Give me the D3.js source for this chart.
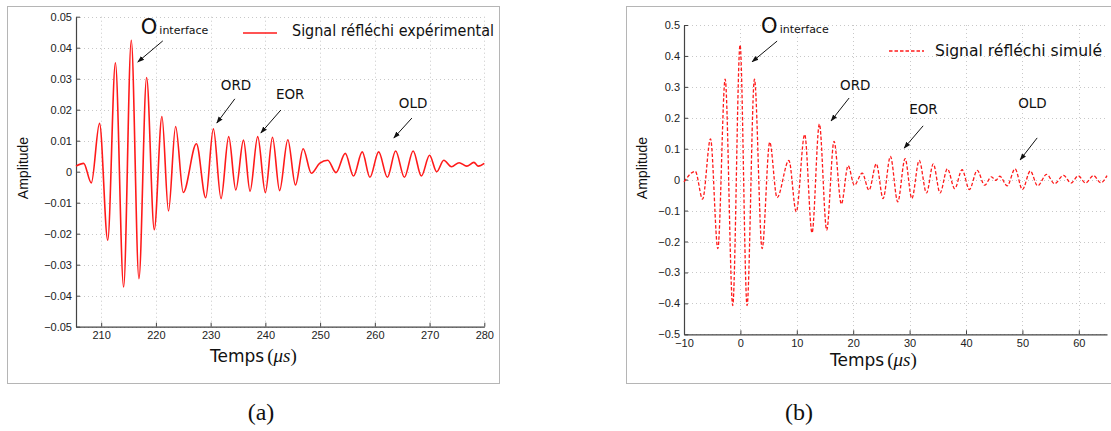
<!DOCTYPE html>
<html><head><meta charset="utf-8">
<script src="https://cdn.jsdelivr.net/npm/d3@7"></script>
<style>body{margin:0;background:#fff}svg{display:block}</style>
</head><body><svg id="c" width="1111" height="431"></svg>
<script>
// ---------- data ----------
const expTime = [205.4,206.8,208.2,209.7,211.2,212.6,214.1,215.5,216.9,218.3,219.7,221.1,222.3,223.6,225.0,227.4,229.1,230.5,231.9,233.3,234.6,236.0,237.2,238.6,240.0,241.3,242.6,244.1,245.5,246.9,248.4,249.9,251.4,252.9,254.6,256.1,257.7,259.1,260.7,262.3,263.8,265.4,267.0,268.5,270.0,271.3,272.6,274.0,275.4,276.8,278.1,278.9,280.0];
const expAmp = [0.0018,0.0027,-0.0036,0.0156,-0.0221,0.0351,-0.0372,0.0424,-0.0345,0.0304,-0.0187,0.0178,-0.0127,0.0146,-0.0067,0.0090,-0.0084,0.0138,-0.0087,0.0113,-0.0059,0.0102,-0.0063,0.0113,-0.0067,0.0111,-0.0061,0.0103,-0.0043,0.0074,-0.0005,0.0027,0.0037,-0.0003,0.0059,-0.0014,0.0064,-0.0018,0.0064,-0.0018,0.0067,-0.0018,0.0067,-0.0014,0.0053,0.0000,0.0037,0.0016,0.0029,0.0018,0.0030,0.0018,0.0027];

const simTime = [-10,-8.0,-6.7,-5.3,-4.0,-2.7,-1.36,-0.06,1.18,2.49,3.85,5.2,6.5,8.6,9.9,11.4,12.7,14.0,15.3,16.6,17.9,19.1,20.2,21.6,22.8,24.1,25.3,26.6,27.9,29.2,30.4,31.7,33.0,34.2,35.4,36.7,38.0,39.3,40.6,42.0,43.3,44.5,45.3,46.0,47.3,48.7,50.0,51.4,52.7,54.3,55.7,57.3,58.6,59.9,61.2,62.6,63.9,65.0];
const simAmp = [-0.0075,0.027,-0.063,0.132,-0.223,0.325,-0.407,0.436,-0.407,0.325,-0.223,0.121,-0.058,0.062,-0.104,0.146,-0.172,0.180,-0.163,0.124,-0.079,0.045,-0.018,0.021,-0.034,0.051,-0.061,0.075,-0.072,0.068,-0.061,0.062,-0.043,0.051,-0.043,0.035,-0.029,0.032,-0.032,0.030,-0.018,0.009,-0.002,0.011,-0.020,0.035,-0.032,0.028,-0.020,0.017,-0.013,0.014,-0.011,0.012,-0.011,0.013,-0.010,0.013];

const expXTicks = [210,220,230,240,250,260,270,280];
const expYTicks = [-0.05,-0.04,-0.03,-0.02,-0.01,0,0.01,0.02,0.03,0.04,0.05];
const simXTicks = [-10,0,10,20,30,40,50,60];
const simYTicks = [-0.5,-0.4,-0.3,-0.2,-0.1,0,0.1,0.2,0.3,0.4,0.5];

const legendLabels = ["Signal réfléchi expérimental","Signal réfléchi simulé"];
const captions = ["(a)","(b)"];
const xLabel = "Temps", xUnit = "μs", yLabel = "Amplitude";

// annotations in data coordinates: [label, textX, textY, tailX, tailY, headX, headY]
const expNotes = [
  ["O", 217.24,0.0444, 221.26,0.0422, 216.69,0.0354],
  ["ORD",231.86,0.0264, 234.42,0.0235, 231.13,0.0157],
  ["EOR",241.92,0.0235, 242.83,0.0199, 239.18,0.0125],
  ["OLD",264.39,0.0205, 266.77,0.0173, 263.48,0.0109]
];
const simNotes = [
  ["O", 3.67,0.474, 6.51,0.448, 2.07,0.381],
  ["ORD",17.68,0.290, 19.28,0.264, 16.08,0.190],
  ["EOR",29.93,0.212, 32.4,0.174, 29.03,0.102],
  ["OLD",49.25,0.232, 52.62,0.135, 49.6,0.064]
];

// ---------- drawing ----------
const svg = d3.select("#c");
const defs = svg.append("defs");
defs.append("marker").attr("id","ah").attr("viewBox","0 0 10 10").attr("refX",9).attr("refY",5)
  .attr("markerWidth",7).attr("markerHeight",7).attr("orient","auto")
  .append("path").attr("d","M0,1.5 L10,5 L0,8.5 Z").attr("fill","#111");

const SANS = "'Liberation Sans', Arial, sans-serif";
const DJ = "'DejaVu Sans', sans-serif";
const SERIF = "'Liberation Serif', 'DejaVu Serif', serif";

function panel(cfg){
  const g = svg.append("g");
  // frame
  g.append("rect").attr("x",cfg.frame[0]+0.5).attr("y",cfg.frame[1]+0.5)
    .attr("width",cfg.frame[2]).attr("height",cfg.frame[3])
    .attr("fill","none").attr("stroke","#b5b5b5").attr("stroke-width",1);

  const x = d3.scaleLinear().domain(cfg.xDom).range([cfg.x0,cfg.x1]);
  const y = d3.scaleLinear().domain(cfg.yDom).range([cfg.y1,cfg.y0]);

  // grid
  const grid = g.append("g").attr("stroke","#c8c8c8").attr("stroke-width",1).attr("stroke-dasharray","1,3");
  grid.selectAll(".gx").data(cfg.xTicks).join("line")
    .attr("x1",d=>Math.round(x(d))+0.5).attr("x2",d=>Math.round(x(d))+0.5)
    .attr("y1",cfg.y0).attr("y2",cfg.y1);
  grid.selectAll(".gy").data(cfg.yTicks).join("line")
    .attr("y1",d=>Math.round(y(d))+0.5).attr("y2",d=>Math.round(y(d))+0.5)
    .attr("x1",cfg.x0).attr("x2",cfg.x1);

  // axes
  const xa = g.append("g").attr("transform",`translate(0,${cfg.y1})`)
    .call(d3.axisBottom(x).tickValues(cfg.xTicks).tickSizeInner(-4).tickSizeOuter(0).tickPadding(5)
      .tickFormat(d=>(d<0?"\u2212":"")+Math.abs(d)));
  const ya = g.append("g").attr("transform",`translate(${cfg.x0},0)`)
    .call(d3.axisLeft(y).tickValues(cfg.yTicks).tickSizeInner(-4).tickSizeOuter(0).tickPadding(4)
      .tickFormat(d=>d===0?"0":(d<0?"\u2212":"")+Math.abs(d).toFixed(cfg.dec)));
  [xa,ya].forEach(a=>{
    a.select(".domain").attr("stroke","#444").attr("stroke-width",1.2);
    a.selectAll(".tick line").attr("stroke","#444");
    a.selectAll("text").attr("font-family",SANS).attr("font-size",11).attr("fill","#222");
  });

  // line
  const line = d3.line().x((d,i)=>x(cfg.tx[i])).y((d,i)=>y(cfg.ty[i])).curve(d3.curveMonotoneX);
  g.append("path").datum(cfg.ty).attr("d",line).attr("fill","none").attr("stroke","#ff1a1a")
    .attr("stroke-width",cfg.lw).attr("stroke-dasharray",cfg.dash||null).attr("stroke-linejoin","round");

  // annotations
  cfg.notes.forEach(n=>{
    const t = g.append("text").attr("x",x(n[1])).attr("y",y(n[2])).attr("fill","#111").attr("font-family",DJ);
    if(n[0]==="O"){
      t.append("tspan").attr("font-size",21).text("O");
      t.append("tspan").attr("font-size",11).attr("dx",2).text("interface");
    } else {
      t.attr("font-size",13.5).text(n[0]);
    }
    g.append("line").attr("x1",x(n[3])).attr("y1",y(n[4])).attr("x2",x(n[5])).attr("y2",y(n[6]))
      .attr("stroke","#111").attr("stroke-width",1).attr("marker-end","url(#ah)");
  });

  // legend
  g.append("line").attr("x1",cfg.leg[0]).attr("x2",cfg.leg[1]).attr("y1",cfg.leg[2]).attr("y2",cfg.leg[2])
    .attr("stroke","#ff1a1a").attr("stroke-width",cfg.lw).attr("stroke-dasharray",cfg.dash||null);
  g.append("text").attr("x",cfg.leg[3]).attr("y",cfg.leg[4]).attr("font-family","'DejaVu Sans Condensed', 'DejaVu Sans', sans-serif")
    .attr("font-size",16.5).attr("fill","#111").attr("textLength",cfg.leg[5]).attr("lengthAdjust","spacingAndGlyphs")
    .text(cfg.legend);

  // axis titles
  const xt = g.append("text").attr("x",cfg.xl[0]).attr("y",cfg.xl[1]).attr("fill","#111");
  xt.append("tspan").attr("font-family",DJ).attr("font-size",17).text(xLabel);
  xt.append("tspan").attr("font-family",SERIF).attr("font-size",19).attr("dx",3).text("(");
  xt.append("tspan").attr("font-family",SERIF).attr("font-size",19).attr("font-style","italic").text(xUnit);
  xt.append("tspan").attr("font-family",SERIF).attr("font-size",19).text(")");
  g.append("text").attr("transform",`translate(${cfg.yl[0]},${cfg.yl[1]}) rotate(-90)`)
    .attr("text-anchor","middle").attr("font-family",SANS).attr("font-size",14).attr("fill","#111").text(yLabel);

  // caption
  g.append("text").attr("x",cfg.cap[0]).attr("y",cfg.cap[1]).attr("text-anchor","middle")
    .attr("font-family",SERIF).attr("font-size",24).attr("fill","#111").text(cfg.caption);
}

panel({frame:[7,6,492,377], xDom:[205.4,280], yDom:[-0.05,0.05], x0:76, x1:484.3, y0:16.7, y1:326.7,
  xTicks:expXTicks, yTicks:expYTicks, dec:2, tx:expTime, ty:expAmp, lw:1.6, notes:expNotes,
  leg:[243,277,33,292,36,202], legend:legendLabels[0], xl:[210,362], yl:[28,168], cap:[261,420], caption:captions[0]});

panel({frame:[626,6,500,377], xDom:[-10,65], yDom:[-0.5,0.5], x0:684, x1:1107, y0:25, y1:334.3,
  xTicks:simXTicks, yTicks:simYTicks, dec:1, tx:simTime, ty:simAmp, lw:1.3, dash:"3.5,2", notes:simNotes,
  leg:[889,924,51,935,56,167], legend:legendLabels[1], xl:[830,366], yl:[647,168], cap:[799,420], caption:captions[1]});
</script></body></html>
